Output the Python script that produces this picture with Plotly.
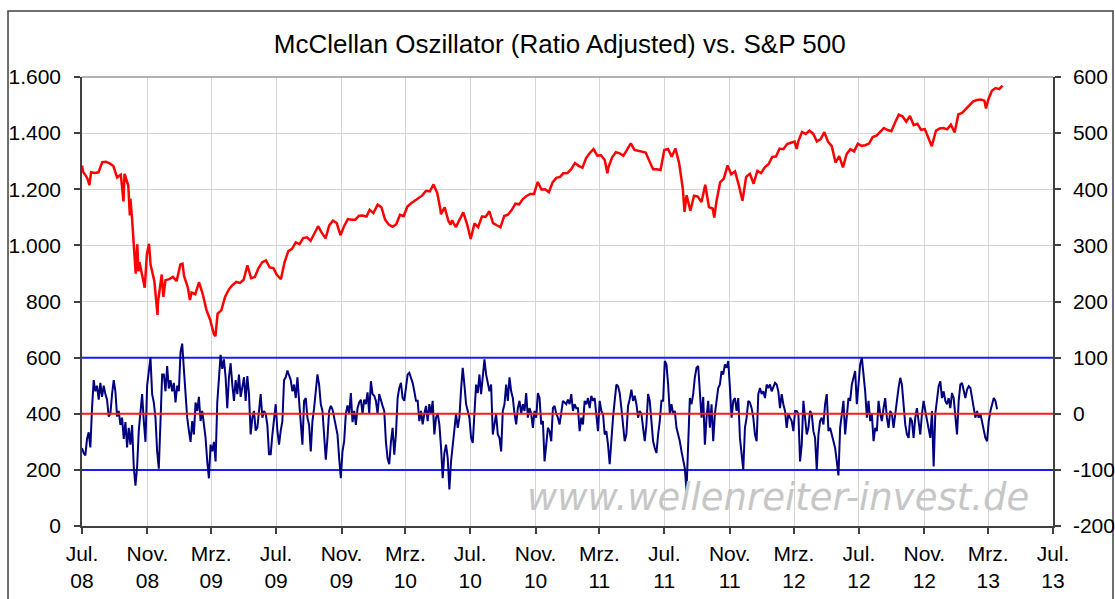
import plotly.graph_objects as go
import pandas as pd

# ---------------- data ----------------
title_text = "McClellan Oszillator (Ratio Adjusted) vs. S&P 500"
watermark_text = "www.wellenreiter-invest.de"

x_tick_dates = ['2008-07-01', '2008-11-01', '2009-03-01', '2009-07-01', '2009-11-01',
                '2010-03-01', '2010-07-01', '2010-11-01', '2011-03-01', '2011-07-01',
                '2011-11-01', '2012-03-01', '2012-07-01', '2012-11-01', '2013-03-01',
                '2013-07-01']
x_tick_labels = ['Jul.<br>08', 'Nov.<br>08', 'Mrz.<br>09', 'Jul.<br>09', 'Nov.<br>09',
                 'Mrz.<br>10', 'Jul.<br>10', 'Nov.<br>10', 'Mrz.<br>11', 'Jul.<br>11',
                 'Nov.<br>11', 'Mrz.<br>12', 'Jul.<br>12', 'Nov.<br>12', 'Mrz.<br>13',
                 'Jul.<br>13']
left_ticks = [0, 200, 400, 600, 800, 1000, 1200, 1400, 1600]
left_tick_labels = ['0', '200', '400', '600', '800', '1.000', '1.200', '1.400', '1.600']
right_ticks = [-200, -100, 0, 100, 200, 300, 400, 500, 600]
right_tick_labels = ['-200', '-100', '0', '100', '200', '300', '400', '500', '600']
band_levels = [100, -100]
zero_level = 0

sp_dates = [
 '2008-07-01','2008-07-03','2008-07-11','2008-07-15','2008-07-18','2008-07-25','2008-08-01','2008-08-08',
 '2008-08-15','2008-08-22','2008-08-29','2008-09-05','2008-09-12','2008-09-15','2008-09-17','2008-09-19',
 '2008-09-26','2008-09-29','2008-09-30','2008-10-03','2008-10-09','2008-10-10','2008-10-13','2008-10-15',
 '2008-10-17','2008-10-24','2008-10-27','2008-10-31','2008-11-04','2008-11-07','2008-11-14','2008-11-20',
 '2008-11-21','2008-11-28','2008-12-01','2008-12-05','2008-12-12','2008-12-19','2008-12-26','2009-01-02',
 '2009-01-06','2009-01-09','2009-01-16','2009-01-20','2009-01-23','2009-01-30','2009-02-06','2009-02-13',
 '2009-02-20','2009-02-27','2009-03-06','2009-03-09','2009-03-13','2009-03-20','2009-03-27','2009-04-03',
 '2009-04-09','2009-04-17','2009-04-24','2009-05-01','2009-05-08','2009-05-15','2009-05-22','2009-05-29',
 '2009-06-05','2009-06-12','2009-06-19','2009-06-26','2009-07-02','2009-07-10','2009-07-17','2009-07-24',
 '2009-07-31','2009-08-07','2009-08-14','2009-08-21','2009-08-28','2009-09-04','2009-09-11','2009-09-18',
 '2009-09-25','2009-10-02','2009-10-09','2009-10-16','2009-10-23','2009-10-30','2009-11-06','2009-11-13',
 '2009-11-20','2009-11-27','2009-12-04','2009-12-11','2009-12-18','2009-12-24','2009-12-31','2010-01-08',
 '2010-01-15','2010-01-22','2010-01-29','2010-02-05','2010-02-12','2010-02-19','2010-02-26','2010-03-05',
 '2010-03-12','2010-03-19','2010-03-26','2010-04-02','2010-04-09','2010-04-16','2010-04-23','2010-04-30',
 '2010-05-06','2010-05-07','2010-05-14','2010-05-21','2010-05-25','2010-05-28','2010-06-04','2010-06-11',
 '2010-06-18','2010-06-25','2010-07-02','2010-07-09','2010-07-16','2010-07-23','2010-07-30','2010-08-06',
 '2010-08-13','2010-08-20','2010-08-27','2010-09-03','2010-09-10','2010-09-17','2010-09-24','2010-10-01',
 '2010-10-08','2010-10-15','2010-10-22','2010-10-29','2010-11-05','2010-11-12','2010-11-19','2010-11-26',
 '2010-12-03','2010-12-10','2010-12-17','2010-12-23','2010-12-31','2011-01-07','2011-01-14','2011-01-21',
 '2011-01-28','2011-02-04','2011-02-11','2011-02-18','2011-02-25','2011-03-04','2011-03-11','2011-03-16',
 '2011-03-18','2011-03-25','2011-04-01','2011-04-08','2011-04-15','2011-04-21','2011-04-29','2011-05-06',
 '2011-05-13','2011-05-20','2011-05-27','2011-06-03','2011-06-10','2011-06-17','2011-06-24','2011-07-01',
 '2011-07-08','2011-07-15','2011-07-22','2011-07-29','2011-08-05','2011-08-08','2011-08-12','2011-08-19',
 '2011-08-26','2011-09-02','2011-09-09','2011-09-16','2011-09-23','2011-09-30','2011-10-03','2011-10-07',
 '2011-10-14','2011-10-21','2011-10-27','2011-10-28','2011-11-04','2011-11-11','2011-11-18','2011-11-25',
 '2011-12-02','2011-12-09','2011-12-16','2011-12-23','2011-12-30','2012-01-06','2012-01-13','2012-01-20',
 '2012-01-27','2012-02-03','2012-02-10','2012-02-17','2012-02-24','2012-03-02','2012-03-06','2012-03-09',
 '2012-03-16','2012-03-23','2012-03-30','2012-04-06','2012-04-13','2012-04-20','2012-04-27','2012-05-04',
 '2012-05-11','2012-05-18','2012-05-25','2012-06-01','2012-06-08','2012-06-15','2012-06-22','2012-06-29',
 '2012-07-06','2012-07-13','2012-07-20','2012-07-27','2012-08-03','2012-08-10','2012-08-17','2012-08-24',
 '2012-08-31','2012-09-07','2012-09-14','2012-09-21','2012-09-28','2012-10-05','2012-10-12','2012-10-19',
 '2012-10-26','2012-11-02','2012-11-09','2012-11-15','2012-11-16','2012-11-23','2012-11-30','2012-12-07',
 '2012-12-14','2012-12-21','2012-12-28','2013-01-04','2013-01-11','2013-01-18','2013-01-25','2013-02-01',
 '2013-02-08','2013-02-15','2013-02-22','2013-02-25','2013-03-01','2013-03-08','2013-03-15','2013-03-22',
 '2013-03-28']
sp_values = [
 1284.9, 1262.9, 1239.5, 1214.9, 1260.7, 1257.8, 1260.3, 1296.3,
 1298.2, 1292.2, 1282.8, 1242.3, 1251.7, 1192.7, 1156.4, 1255.1,
 1213.3, 1106.4, 1166.4, 1099.2, 909.9, 899.2, 1003.4, 907.8,
 940.6, 876.8, 848.9, 968.8, 1005.8, 931.0, 873.3, 752.4,
 800.0, 896.2, 816.2, 876.1, 879.7, 887.9, 872.8, 931.8,
 934.7, 890.4, 850.1, 805.2, 832.0, 825.9, 868.6, 826.8,
 770.1, 735.1, 683.4, 676.5, 756.6, 768.5, 815.9, 842.5,
 856.6, 869.6, 866.2, 877.5, 929.2, 882.9, 887.0, 919.1,
 940.1, 946.2, 921.2, 918.9, 896.4, 879.1, 940.4, 979.3,
 987.5, 1010.5, 1004.1, 1026.1, 1028.9, 1016.4, 1042.7, 1068.3,
 1044.4, 1025.2, 1071.5, 1087.7, 1079.6, 1036.2, 1069.3, 1093.5,
 1091.4, 1091.5, 1106.0, 1106.4, 1102.5, 1126.5, 1115.1, 1145.0,
 1136.0, 1091.8, 1073.9, 1066.2, 1075.5, 1109.2, 1104.5, 1138.7,
 1150.0, 1159.9, 1166.6, 1178.1, 1194.4, 1192.1, 1217.3, 1186.7,
 1128.2, 1110.9, 1135.7, 1087.7, 1074.0, 1089.4, 1064.9, 1091.6,
 1117.5, 1076.8, 1022.6, 1078.0, 1064.9, 1102.7, 1101.6, 1121.6,
 1079.3, 1071.7, 1064.6, 1104.5, 1109.6, 1125.6, 1148.7, 1146.2,
 1165.2, 1176.2, 1183.1, 1183.3, 1225.9, 1199.2, 1199.7, 1189.4,
 1224.7, 1240.4, 1243.9, 1256.8, 1257.6, 1271.5, 1293.2, 1283.4,
 1276.3, 1310.9, 1329.2, 1343.0, 1319.9, 1321.2, 1304.3, 1256.9,
 1279.2, 1313.8, 1332.4, 1328.2, 1319.7, 1337.4, 1363.6, 1340.2,
 1337.8, 1333.3, 1331.1, 1300.2, 1271.0, 1271.5, 1268.5, 1339.7,
 1343.8, 1316.1, 1345.0, 1292.3, 1199.4, 1119.5, 1178.8, 1123.5,
 1176.8, 1174.0, 1154.2, 1216.0, 1136.4, 1131.4, 1099.2, 1155.5,
 1224.6, 1238.3, 1284.6, 1285.1, 1253.2, 1263.9, 1215.7, 1158.7,
 1244.3, 1255.2, 1219.7, 1265.3, 1257.6, 1277.8, 1289.1, 1315.4,
 1316.3, 1344.9, 1342.6, 1361.2, 1365.7, 1370.0, 1343.4, 1370.9,
 1404.2, 1397.1, 1408.5, 1398.1, 1370.3, 1378.5, 1403.4, 1369.1,
 1353.4, 1295.2, 1317.8, 1278.0, 1325.7, 1342.8, 1335.0, 1362.2,
 1354.7, 1356.8, 1362.7, 1386.0, 1391.0, 1405.9, 1418.2, 1411.1,
 1406.6, 1437.9, 1465.8, 1460.2, 1440.7, 1460.9, 1428.6, 1433.2,
 1411.9, 1414.2, 1379.9, 1353.3, 1359.9, 1409.2, 1416.2, 1418.1,
 1413.6, 1430.2, 1402.4, 1466.5, 1472.1, 1486.0, 1503.0, 1513.2,
 1517.9, 1519.8, 1515.6, 1487.9, 1518.2, 1551.2, 1560.7, 1556.9,
 1569.2]

# McClellan oscillator readings on a regular sampling grid (about every 3.14 days)
osc_start = '2008-07-01'
osc_step = '4522min'
osc_values = [
 # Jul 2008 - Jan 2010
 -61, -70, -74, -45, -33, -60, 10, 60, 40, 50, 25, 55, 30, 50, 35, 25, -5, 0, 35, 60,
 40, -5, 5, -20, -7, -45, -15, -60, -25, -55, -20, -95, -128, -95, -30, 5, 35, -13, -50, 50,
 75, 100, 35, 20, -7, -67, -98, -10, 70, 70, 40, 85, 45, 60, 40, 55, 20, 50, 40, 110,
 125, 80, 30, -7, -30, -50, -13, -37, 20, 5, 30, -13, 5, -20, -43, -85, -115, -55, -67, -50,
 -85, 20, 60, 105, 80, 97, 65, 10, 65, 90, 52, 23, 60, 35, 70, 30, 47, 65, 23, 67,
 35, -37, -7, 5, -30, -25, 5, 35, -7, 5, 0, -20, -72, -72, -37, -13, 17, -30, -55, -30,
 -13, 60, 65, 77, 70, 60, 40, 52, 28, 65, 23, -13, -55, 23, 28, -7, -20, -67, -13, 10,
 40, 70, 52, 17, 5, -43,
 # Jan 2010 - Jan 2011
 -82, -43, 5, 14, 8, -7, -25, -37, -79, -115, -67, -49, 0, 15, 0, 37, -15, 5, -20, 10,
 20, 25, 0, 25, 17, 38, 0, 58, 35, 32, 23, 0, 35, 23, 14, 5, -50, -80, -90, -50,
 -25, -73, -37, 28, 46, 55, 28, 23, 52, 70, 73, 65, 55, 40, 23, 23, -13, 5, -19, 0,
 14, -13, 17, 0, 23, -37, -7, 0, -19, -60, -115, -70, -55, -79, -135, -85, -55, -31, 0, -25,
 -7, 43, 82, 52, 17, 5, -7, -43, -52, 0, 52, 37, 70, 35, 75, 97, 70, 52, 40, 52,
 -37, -19, 0, -37, -43, -67, 5, 17, 52, 23, 65, 40, 28, 0, -19, 10, 23, 0, 17, 5,
 37, -7, 10, 0, -25, 5, -7, 37, 28, -19, -13, -85, -49, -25, -31, -49, 10, 14, 0, -7,
 -19, 5, 23, 20, 17, 25, 17, 35, 5, 17,
 # Jan 2011 - Jan 2012
 10, 10, -31, -7, -19, 23, 17, 28, 10, 32, 23, 28, 0, -31, 23, 5, 0, -37, -31, -55,
 -90, -37, -7, 23, 52, 49, 37, 10, -25, -49, -37, 14, 26, 43, 23, 32, 17, -7, 5, 0,
 -25, -49, -19, 35, 23, -7, -49, -61, -70, -37, -13, 23, 23, 94, 88, 52, 0, 17, 0, 5,
 -25, -37, -49, -67, -85, -97, -138, -67, 28, 17, 35, 65, 82, 85, 40, -7, 30, -55, -7, 23,
 -25, 17, -49, 0, 23, 46, 52, 76, 70, 88, 82, 94, 46, -7, 23, 28, 5, 28, -43, -73,
 -100, -25, -7, 23, 20, 10, -7, -37, -49, 35, 46, 35, 40, 28, 52, 46, 52, 40, 46, 55,
 52, 40, 10, 35, 17, 5, -25, 0, -7, -13, -31, 5, 5, 0, -85, -55, 23, -13, -37, -25,
 5, 0, -31, -43, -100, -37, -13, -7, -19, 17,
 # Jan 2012 - Mrz 2013
 35, -31, -25, -37, -49, -61, -85, -110, -25, 0, 23, -37, -7, 28, 23, 52, 64, 76, 17, 58,
 88, 100, 75, 40, -7, 23, -13, 0, -49, -25, -31, 23, 0, -13, 10, 28, -7, -25, 5, 0,
 -25, 5, 23, 46, 64, 52, 14, -19, -37, -43, -7, -13, -43, -7, 10, -13, -37, 0, 23, 5,
 -13, -25, -43, 5, -94, 0, 23, 49, 58, 28, 40, 23, 17, 28, 10, 37, 28, -7, -37, 23,
 52, 55, 40, 28, 43, 49, 46, 28, 5, -7, 5, -7, 0, -13, -25, -43, -49, -13, 5, 17,
 28, 23, 8]

osc_dates = pd.date_range(start=osc_start, periods=len(osc_values), freq=osc_step)
axis_start, axis_end = x_tick_dates[0], x_tick_dates[-1]

# ---------------- figure ----------------
FONT = "Liberation Sans, Arial, Helvetica, sans-serif"
fig = go.Figure()

for lv in band_levels:
    fig.add_trace(go.Scatter(x=[axis_start, axis_end], y=[lv, lv], yaxis='y2', mode='lines',
                             line=dict(color='#1a1aff', width=2), hoverinfo='skip'))

fig.add_trace(go.Scatter(x=osc_dates, y=osc_values, yaxis='y2', mode='lines',
                         line=dict(color='#00007f', width=2), name='McClellan Oszillator'))

fig.add_trace(go.Scatter(x=[axis_start, axis_end], y=[zero_level, zero_level], yaxis='y2',
                         mode='lines', line=dict(color='#ff1a1a', width=2), hoverinfo='skip'))

fig.add_trace(go.Scatter(x=sp_dates, y=sp_values, yaxis='y', mode='lines',
                         line=dict(color='#ff0000', width=2.5), name='S&P 500'))

axis_common = dict(showline=True, linecolor='#404040', linewidth=1.5, ticks='outside',
                   ticklen=6, tickcolor='#404040', tickwidth=1.5, automargin=False,
                   tickfont=dict(family=FONT, size=21, color='#000000'))

fig.update_layout(
    width=1115, height=599,
    margin=dict(l=82, r=62, t=77, b=73, autoexpand=False),
    paper_bgcolor='white', plot_bgcolor='white',
    showlegend=False,
    font=dict(family=FONT, color='#000000'),
    title=dict(text=title_text, x=0.502, xanchor='center', xref='container',
               y=1 - 44 / 599, yanchor='middle', yref='container',
               font=dict(family=FONT, size=26, color='#000000')),
    xaxis=dict(type='date', range=[axis_start, axis_end], tickmode='array',
               tickvals=x_tick_dates, ticktext=x_tick_labels,
               showgrid=True, gridcolor='#d4d4d4', gridwidth=1.3,
               zeroline=False, ticklabelstandoff=2, **axis_common),
    yaxis=dict(range=[0, 1600], tickmode='array', tickvals=left_ticks,
               ticktext=left_tick_labels, showgrid=True, gridcolor='#d4d4d4', gridwidth=1.3,
               zeroline=False, ticklabelstandoff=9, **axis_common),
    yaxis2=dict(range=[-200, 600], overlaying='y', side='right', tickmode='array',
                tickvals=right_ticks, ticktext=right_tick_labels, showgrid=False,
                zeroline=False, ticklabelstandoff=8, **axis_common),
)

# outer chart frame and top border of plot area
fig.add_shape(type='rect', xref='paper', yref='paper', x0=-0.0762, x1=1.0618, y0=-0.3, y1=1.147,
              line=dict(color='#404040', width=1.5), layer='below')
fig.add_shape(type='line', xref='paper', yref='paper', x0=0, x1=1, y0=1, y1=1,
              line=dict(color='#9a9a9a', width=1.5))

fig.add_annotation(text=watermark_text, xref='paper', yref='paper',
                   x=(778 - 82) / 971, y=(525.7 - 497) / 448.7, xanchor='center', yanchor='middle',
                   showarrow=False,
                   font=dict(family='DejaVu Sans, sans-serif', size=37, color='#c6c6c6',
                             style='italic'))

# remove the browser's default page margin so the 1115x599 figure fills the window exactly
fig.write_html("out.html", config={'displayModeBar': False},
               post_script="document.body.style.margin='0';document.body.style.overflow='hidden';")
